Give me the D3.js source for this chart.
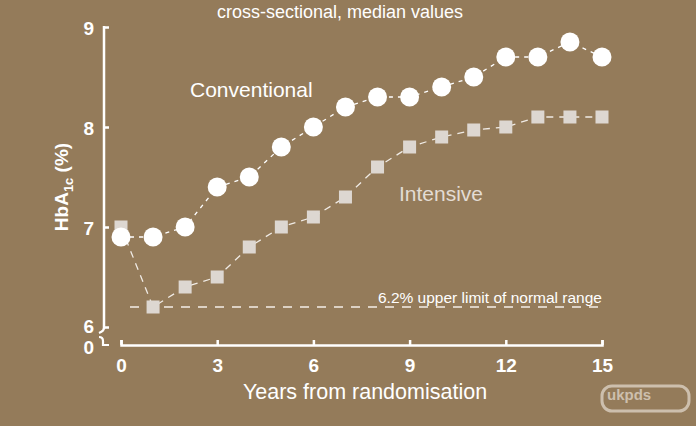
<!DOCTYPE html>
<meta charset="utf-8">
<style>
  body { margin: 0; background: #947b5a; }
  svg { display: block; font-family: "Liberation Sans", Arial, sans-serif; }
  .tick text { font-size: 19px; font-weight: bold; fill: #fff; }
  .tick line, .domain { stroke: #fff; stroke-width: 2.5; }
</style>
<svg width="696" height="426"></svg>
<script src="https://d3js.org/d3.v7.min.js"></script>
<script>

  // data
  var years = [0, 1, 2, 3, 4, 5, 6, 7, 8, 9, 10, 11, 12, 13, 14, 15];
  var conventional = [6.9, 6.9, 7.0, 7.4, 7.5, 7.8, 8.0, 8.2, 8.3, 8.3, 8.4, 8.5, 8.7, 8.7, 8.85, 8.7];
  var intensive = [7.0, 6.2, 6.4, 6.5, 6.8, 7.0, 7.1, 7.3, 7.6, 7.8, 7.9, 7.97, 8.0, 8.1, 8.1, 8.1];
  var xTicks = [0, 3, 6, 9, 12, 15];
  var yTicks = [6, 7, 8, 9];
  var normalLimit = 6.2;

  var svg = d3.select("svg");

  var x = d3.scaleLinear().domain([0, 15]).range([121, 602]);
  var y = d3.scaleLinear().domain([6, 9]).range([327, 27]);
  var xAxisY = 345;

  // title
  svg.append("text")
    .attr("x", 340).attr("y", 18)
    .attr("text-anchor", "middle")
    .style("font-size", "18px").style("fill", "#fff")
    .text("cross-sectional, median values");

  // y axis
  var yAxis = svg.append("g")
    .attr("transform", "translate(104,0)")
    .call(d3.axisLeft(y).tickValues(yTicks).tickFormat(d3.format("d")).tickSize(-5).tickPadding(10));
  yAxis.select(".domain").remove();
  yAxis.selectAll(".tick text").attr("dy", "0.38em");
  yAxis.selectAll(".tick text").filter(function(d) { return d === 6; }).attr("dy", "0.3em");
  yAxis.append("line").attr("class", "domain")
    .attr("x1", 0).attr("x2", 0).attr("y1", y(9) - 1).attr("y2", y(6) + 2);

  // axis break
  svg.append("path")
    .attr("fill", "none").attr("stroke", "#fff").attr("stroke-width", 2.2)
    .attr("d", "M104," + (y(6) + 1) + " Q104," + (y(6) + 4) + " 99," + (y(6) + 6));
  svg.append("path")
    .attr("fill", "none").attr("stroke", "#fff").attr("stroke-width", 2.2)
    .attr("d", "M99," + (y(6) + 10) + " Q103," + (y(6) + 10) + " 103," + (y(6) + 14) +
      " L103," + xAxisY + " L109," + xAxisY);
  svg.append("text")
    .attr("x", 94).attr("y", xAxisY + 2).attr("dy", "0.38em")
    .attr("text-anchor", "end")
    .style("font-size", "19px").style("font-weight", "bold").style("fill", "#fff")
    .text("0");

  // x axis
  var xAxis = svg.append("g")
    .attr("transform", "translate(0," + xAxisY + ")")
    .call(d3.axisBottom(x).tickValues(xTicks).tickSize(-5).tickSizeOuter(-5).tickPadding(14));
  xAxis.selectAll(".tick text").attr("dy", "0.71em");

  svg.append("text")
    .attr("x", 365).attr("y", 399)
    .attr("text-anchor", "middle")
    .style("font-size", "21.5px").style("fill", "#fff")
    .text("Years from randomisation");

  // y label
  var yl = svg.append("text")
    .attr("transform", "translate(68,187) rotate(-90)")
    .attr("text-anchor", "middle")
    .style("font-size", "19px").style("font-weight", "bold").style("fill", "#fff");
  yl.append("tspan").text("HbA");
  yl.append("tspan").attr("dy", 5).style("font-size", "13px").text("1c");
  yl.append("tspan").attr("dy", -5).text(" (%)");

  // normal range line
  svg.append("line")
    .attr("x1", 130).attr("x2", x(15))
    .attr("y1", y(normalLimit)).attr("y2", y(normalLimit))
    .attr("stroke", "#f3eee8").attr("stroke-width", 1.6)
    .attr("stroke-dasharray", "9,8");
  svg.append("text")
    .attr("x", x(15)).attr("y", y(normalLimit) - 4)
    .attr("text-anchor", "end")
    .style("font-size", "15.5px").style("fill", "#fff")
    .text("6.2% upper limit of normal range");

  var line = d3.line()
    .x(function(d, i) { return x(years[i]); })
    .y(function(d) { return y(d); });

  // intensive
  svg.append("path")
    .attr("d", line(intensive))
    .attr("fill", "none").attr("stroke", "#f0ebe5").attr("stroke-width", 1.3)
    .attr("stroke-dasharray", "7,6");
  svg.selectAll(".sq")
    .data(intensive)
    .enter().append("rect")
    .attr("class", "sq")
    .attr("x", function(d, i) { return x(years[i]) - 6.5; })
    .attr("y", function(d) { return y(d) - 6.5; })
    .attr("width", 13).attr("height", 13)
    .attr("fill", "#ddd7d1");

  // conventional
  svg.append("path")
    .attr("d", line(conventional))
    .attr("fill", "none").attr("stroke", "#fff").attr("stroke-width", 1.3)
    .attr("stroke-dasharray", "4,5");
  svg.selectAll(".dot")
    .data(conventional)
    .enter().append("circle")
    .attr("class", "dot")
    .attr("cx", function(d, i) { return x(years[i]); })
    .attr("cy", function(d) { return y(d); })
    .attr("r", 9.5)
    .attr("fill", "#fff");

  // series labels
  svg.append("text")
    .attr("x", 190).attr("y", 97)
    .style("font-size", "21px").style("fill", "#fff")
    .text("Conventional");
  svg.append("text")
    .attr("x", 399).attr("y", 201)
    .style("font-size", "21px").style("fill", "#e3dcd4")
    .text("Intensive");

  // logo
  svg.append("rect")
    .attr("x", 602).attr("y", 386).attr("width", 87).attr("height", 25).attr("rx", 10)
    .attr("fill", "none").attr("stroke", "#cdbfad").attr("stroke-width", 3);
  svg.append("text")
    .attr("x", 607).attr("y", 400)
    .style("font-size", "15px").style("font-weight", "bold").style("fill", "#cdbfad")
    .text("ukpds");

</script>
